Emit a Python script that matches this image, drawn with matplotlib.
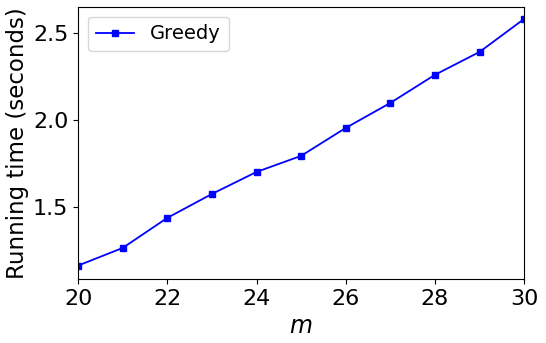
import matplotlib
matplotlib.use("Agg")
import matplotlib.pyplot as plt

m_values = [20, 21, 22, 23, 24, 25, 26, 27, 28, 29, 30]
greedy_times = [1.166, 1.267, 1.439, 1.576, 1.702, 1.794, 1.954, 2.097, 2.258, 2.389, 2.578]
x_ticks = [20, 22, 24, 26, 28, 30]
y_ticks = [1.5, 2.0, 2.5]

fig = plt.figure(figsize=(5.46, 3.43), dpi=100)
ax = fig.add_axes([0.143, 0.187, 0.817, 0.793])
ax.plot(m_values, greedy_times, color="blue", marker="s", markersize=5, linewidth=1.3, label="Greedy")
ax.set_xlim(20, 30)
ax.set_ylim(1.09, 2.647)
ax.set_xticks(x_ticks)
ax.set_yticks(y_ticks)
ax.tick_params(labelsize=16)
ax.set_xlabel("$m$", fontsize=17)
ax.set_ylabel("Running time (seconds)", fontsize=16.5, labelpad=3)
ax.legend(loc="upper left", fontsize=14)
fig.savefig("out.png", dpi=100)
